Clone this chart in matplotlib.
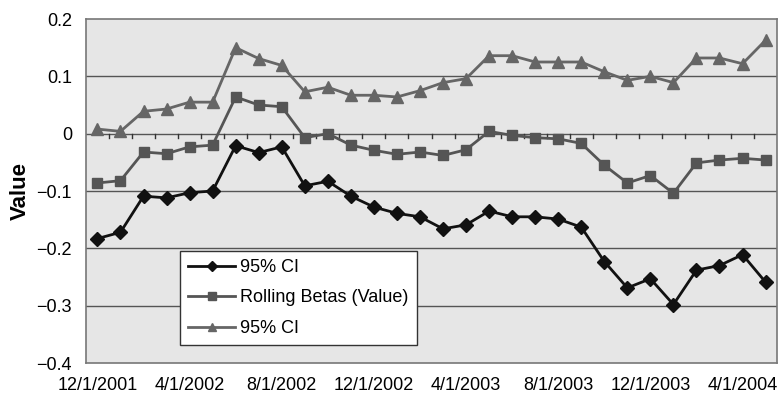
import matplotlib
matplotlib.use("Agg")
import matplotlib.pyplot as plt
import numpy as np

plt.rcParams['font.family'] = ['Liberation Sans', 'DejaVu Sans']

dates = ["12/1/2001", "1/1/2002", "2/1/2002", "3/1/2002", "4/1/2002", "5/1/2002",
         "6/1/2002", "7/1/2002", "8/1/2002", "9/1/2002", "10/1/2002", "11/1/2002",
         "12/1/2002", "1/1/2003", "2/1/2003", "3/1/2003", "4/1/2003", "5/1/2003",
         "6/1/2003", "7/1/2003", "8/1/2003", "9/1/2003", "10/1/2003", "11/1/2003",
         "12/1/2003", "1/1/2004", "2/1/2004", "3/1/2004", "4/1/2004", "5/1/2004"]

lower_ci = [-0.183, -0.172, -0.109, -0.112, -0.103, -0.100, -0.021, -0.033, -0.023, -0.091,
            -0.083, -0.109, -0.128, -0.139, -0.145, -0.166, -0.159, -0.135, -0.145, -0.145,
            -0.149, -0.163, -0.223, -0.269, -0.253, -0.298, -0.238, -0.230, -0.211, -0.259]

rolling_beta = [-0.086, -0.082, -0.032, -0.035, -0.023, -0.020, 0.064, 0.050, 0.047, -0.007,
                0.000, -0.020, -0.029, -0.036, -0.032, -0.038, -0.028, 0.004, -0.003, -0.007,
                -0.009, -0.017, -0.055, -0.086, -0.073, -0.104, -0.051, -0.046, -0.043, -0.046]

upper_ci = [0.008, 0.004, 0.039, 0.043, 0.055, 0.055, 0.150, 0.131, 0.119, 0.073,
            0.081, 0.067, 0.067, 0.064, 0.075, 0.089, 0.096, 0.136, 0.136, 0.125,
            0.125, 0.125, 0.108, 0.093, 0.100, 0.089, 0.132, 0.132, 0.122, 0.163]

y_ticks = [0.2, 0.1, 0, -0.1, -0.2, -0.3, -0.4]
y_tick_labels = ["0.2", "0.1", "0", "\u22120.1", "\u22120.2", "\u22120.3", "\u22120.4"]

fig = plt.figure(figsize=(7.81, 4.0), dpi=100)
ax = fig.add_axes([0.110, 0.0925, 0.885, 0.86])
ax.set_facecolor('#e6e6e6')

x = np.arange(len(dates))
ax.plot(x, lower_ci, color='#111111', lw=2, marker='D', ms=7, label='95% CI', zorder=5)
ax.plot(x, rolling_beta, color='#555555', lw=2, marker='s', ms=7, label='Rolling Betas (Value)', zorder=4)
ax.plot(x, upper_ci, color='#666666', lw=2, marker='^', ms=8, label='95% CI', zorder=3)

ax.set_xlim(-0.5, len(dates) - 0.5)
ax.set_ylim(-0.4, 0.2)
ax.set_yticks(y_ticks)
ax.set_yticklabels(y_tick_labels, fontsize=13)
for yt in y_ticks:
    if -0.4 < yt < 0.2:
        ax.axhline(yt, color='#555555', lw=1, zorder=1)

# category-boundary tick marks on the zero line
for b in np.arange(0.5, len(dates) - 0.5, 1.0):
    ax.plot([b, b], [0, -0.007], color='#333333', lw=1, zorder=2)

label_idx = list(range(0, len(dates), 4))
ax.set_xticks(label_idx)
ax.set_xticklabels([dates[i] for i in label_idx], fontsize=13)
ax.tick_params(axis='x', length=0, pad=10)
ax.tick_params(axis='y', length=0, pad=10)

for s in ax.spines.values():
    s.set_color('#777777')
    s.set_linewidth(1.2)

ax.set_ylabel('Value', fontsize=16, fontweight='bold', labelpad=4)

leg = ax.legend(loc='lower left', bbox_to_anchor=(0.136, 0.052), fontsize=13,
                frameon=True, fancybox=False, framealpha=1, edgecolor='#333333',
                handlelength=2.6, borderpad=0.45, labelspacing=0.75, handletextpad=0.3,
                borderaxespad=0, markerscale=0.8)
leg.get_frame().set_linewidth(1)
leg.set_zorder(10)

fig.savefig('out.png', dpi=100)
